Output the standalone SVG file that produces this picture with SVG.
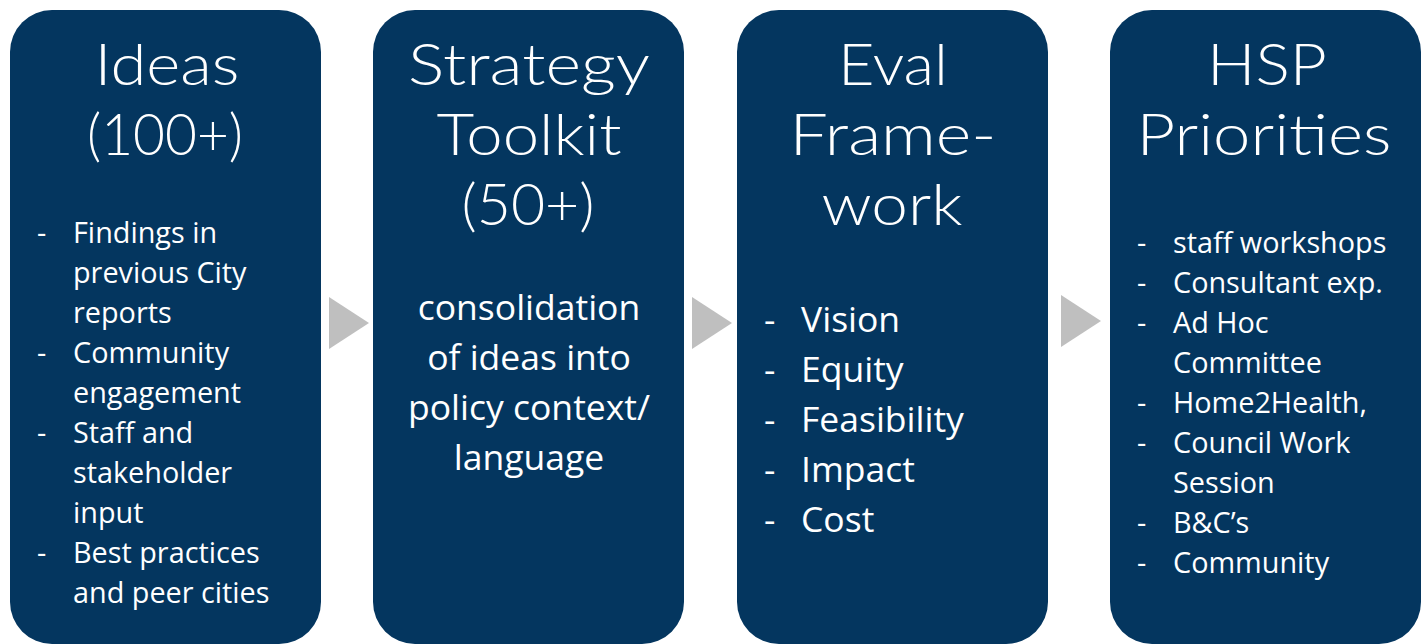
<svg xmlns="http://www.w3.org/2000/svg" width="1426" height="644" viewBox="0 0 1426 644">
<style>
.box{fill:#04365f}
.arrow{fill:#bfbfbf}
.title{font-family:"Lato","Inter",sans-serif;font-weight:300;font-size:57px;fill:#ffffff;text-anchor:middle}
.body{font-family:"Open Sans","Noto Sans",sans-serif;fill:#ffffff}
.s{font-size:28.8px}
.l{font-size:35.5px}
.c{text-anchor:middle}
</style>
<rect width="1426" height="644" fill="#ffffff"/>
<g id="connectors">
<polygon class="arrow" points="329,297 369,323 329,349"/>
<polygon class="arrow" points="692,297 732,323 692,349"/>
<polygon class="arrow" points="1061,295 1101,321 1061,347"/>
</g>
<g id="ideas">
<rect class="box" x="10" y="10" width="311" height="634" rx="42"/>
<text class="title" x="167" y="85" textLength="145" lengthAdjust="spacingAndGlyphs">Ideas</text>
<text class="title" x="165" y="155" textLength="156" lengthAdjust="spacingAndGlyphs">(100+)</text>
<g class="body s">
<text x="37" y="243">-</text><text x="73" y="243">Findings in</text>
<text x="73" y="283">previous City</text>
<text x="73" y="323">reports</text>
<text x="37" y="363">-</text><text x="73" y="363">Community</text>
<text x="73" y="403">engagement</text>
<text x="37" y="443">-</text><text x="73" y="443">Staff and</text>
<text x="73" y="483">stakeholder</text>
<text x="73" y="523">input</text>
<text x="37" y="563">-</text><text x="73" y="563">Best practices</text>
<text x="73" y="603">and peer cities</text>
</g>
</g>
<g id="strategy">
<rect class="box" x="373" y="10" width="311" height="634" rx="42"/>
<text class="title" x="529" y="85" textLength="242" lengthAdjust="spacingAndGlyphs">Strategy</text>
<text class="title" x="529" y="155" textLength="185" lengthAdjust="spacingAndGlyphs">Toolkit</text>
<text class="title" x="528" y="225" textLength="133" lengthAdjust="spacingAndGlyphs">(50+)</text>
<g class="body l c">
<text x="529" y="320">consolidation</text>
<text x="529" y="370">of ideas into</text>
<text x="529" y="420">policy context/</text>
<text x="529" y="470">language</text>
</g>
</g>
<g id="eval">
<rect class="box" x="737" y="10" width="311" height="634" rx="42"/>
<text class="title" x="893" y="85" textLength="110" lengthAdjust="spacingAndGlyphs">Eval</text>
<text class="title" x="893" y="155" textLength="207" lengthAdjust="spacingAndGlyphs">Frame-</text>
<text class="title" x="892" y="225" textLength="141" lengthAdjust="spacingAndGlyphs">work</text>
<g class="body l">
<text x="764" y="332">-</text><text x="801" y="332">Vision</text>
<text x="764" y="382">-</text><text x="801" y="382">Equity</text>
<text x="764" y="432">-</text><text x="801" y="432">Feasibility</text>
<text x="764" y="482">-</text><text x="801" y="482">Impact</text>
<text x="764" y="532">-</text><text x="801" y="532">Cost</text>
</g>
</g>
<g id="hsp">
<rect class="box" x="1110" y="10" width="311" height="634" rx="42"/>
<text class="title" x="1267" y="85" textLength="120" lengthAdjust="spacingAndGlyphs">HSP</text>
<text class="title" x="1264" y="155" textLength="255" lengthAdjust="spacingAndGlyphs">Priorities</text>
<g class="body s">
<text x="1137" y="253">-</text><text x="1173" y="253">staff workshops</text>
<text x="1137" y="293">-</text><text x="1173" y="293">Consultant exp.</text>
<text x="1137" y="333">-</text><text x="1173" y="333">Ad Hoc</text>
<text x="1173" y="373">Committee</text>
<text x="1137" y="413">-</text><text x="1173" y="413">Home2Health,</text>
<text x="1137" y="453">-</text><text x="1173" y="453">Council Work</text>
<text x="1173" y="493">Session</text>
<text x="1137" y="533">-</text><text x="1173" y="533">B&amp;C’s</text>
<text x="1137" y="573">-</text><text x="1173" y="573">Community</text>
</g>
</g>
</svg>
